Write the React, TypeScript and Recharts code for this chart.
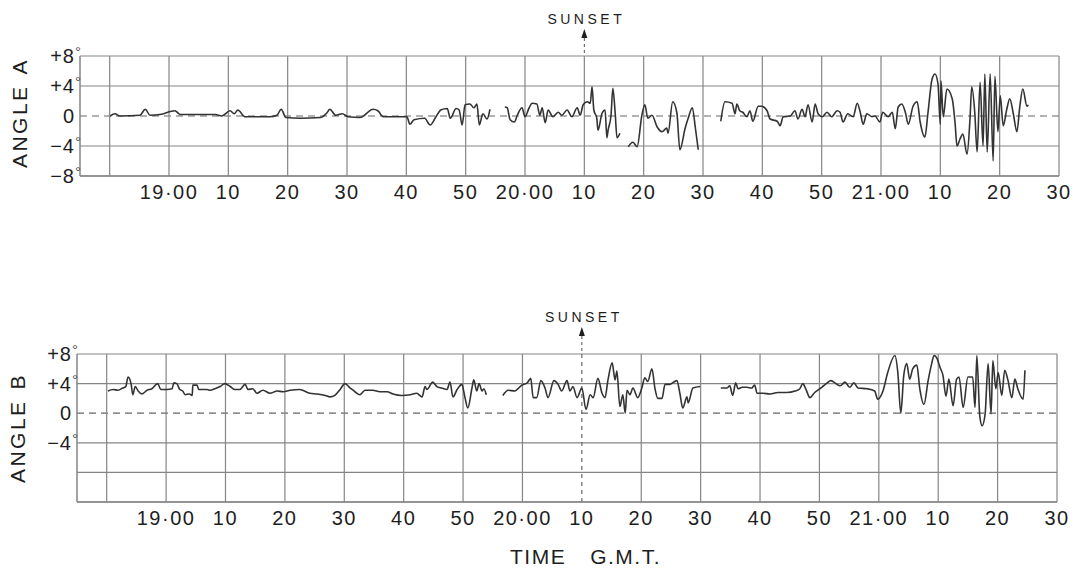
import { LineChart, Line, XAxis, YAxis, ReferenceLine } from 'recharts'

// time in minutes after 18:00, angle in degrees
const timeTicks = [50, 60, 70, 80, 90, 100, 110, 120, 130, 140, 150, 160, 170, 180, 190, 200, 210]
const timeLabels = ['', '19·00', '10', '20', '30', '40', '50', '20·00', '10', '20', '30', '40', '50', '21·00', '10', '20', '30']
const sunsetTime = 130

const angleATicks = [8, 4, 0, -4, -8]
const angleALabels = ['+8', '+4', '0', '−4', '−8']
const angleBTicks = [8, 4, 0, -4, -8, -12]
const angleBLabels = ['+8', '+4', '0', '−4', '', '']

const angleA1 = [[50.1,0],[50.9,0.3],[51.7,0],[55.1,0.1],[56.0,0.9],[56.8,0.1],[58.5,0.2],[61.0,0.7],[61.9,0.2],[67.8,0.2],[68.9,0],[70.3,0.7],[71.0,0.3],[71.6,0.8],[72.8,-0.1],[77.0,-0.1],[78.2,0.1],[78.9,0.9],[79.7,-0.2],[82.1,-0.3],[85.5,-0.2],[86.6,0.4],[87.1,0.9],[88.1,0.1],[89.2,0.3],[90.2,-0.1],[92.2,-0.2],[94.4,0.9],[95.2,0.7],[96.1,-0.1],[100.1,-0.1],[100.6,-1.1],[101.3,-0.5],[103.1,-0.3],[104.0,-1.2],[105.0,-0.1],[105.8,0.8],[106.9,1.0],[107.4,-0.3],[108.4,1.0],[108.9,0.8],[109.4,-1.2],[109.9,1.5],[110.7,1.6],[111.4,1.1],[111.9,1.6],[112.3,-1.2],[112.9,0.3],[113.6,-0.4],[114.1,0.9]]
const angleA2 = [[116.6,1.2],[117.0,1.1],[117.5,-0.5],[118.2,-0.8],[118.7,0.1],[119.5,1.1],[120.0,-0.1],[120.7,1.1],[121.2,1.7],[122.0,1.6],[122.5,0.1],[122.9,1.1],[123.4,-0.9],[123.9,0.8],[124.7,-0.1],[125.6,0.5],[126.2,0.1],[127.1,0.8],[127.9,-0.1],[128.8,1.1],[129.3,0.1],[129.8,1.5],[130.5,1.9],[131.0,1.7],[131.3,3.9],[131.6,0.8],[132.1,-0.3],[132.3,-1.9],[133.0,0.4],[133.5,0.8],[133.8,-2.9],[134.0,-1.9],[134.5,0.1],[134.8,3.7],[135.2,0.4],[135.5,-2.9],[136.0,-2.3]]
const angleA3 = [[137.4,-4.1],[138.2,-3.5],[138.9,-4.1],[139.7,0.1],[140.2,1.5],[140.7,-0.3],[141.4,0.1],[142.3,-1.5],[143.1,-2.1],[143.9,-1.6],[144.1,-2.3],[144.9,1.9],[145.6,0.4],[146.1,-4.5],[147.0,-1.6],[147.5,-0.3],[148.2,1.1],[148.7,-1.5],[149.2,-4.5]]
const angleA4 = [[153.0,-0.7],[153.7,1.9],[154.9,1.7],[155.4,0.3],[155.7,1.6],[156.2,0.7],[156.7,0.5],[157.4,-0.1],[157.9,0.7],[158.4,-0.7],[159.3,1.3],[159.9,1.3],[160.8,0.7],[161.3,-0.4],[162.5,-0.7],[163.0,-1.3],[163.5,-0.1],[164.7,0],[165.5,0.7],[166.0,-0.4],[166.7,0.9],[167.2,-0.1],[167.7,1.5],[168.4,-0.8],[168.9,1.6],[169.4,0.3],[170.1,-0.1],[170.9,0.5],[171.7,-0.1],[172.6,0.7],[173.1,0.5],[173.6,-0.8],[174.4,0.3],[175.3,-0.1],[176.0,1.7],[176.5,0.5],[177.0,-1.1],[177.6,0.3],[178.5,-0.1],[179.0,0],[179.8,-0.8],[180.3,0.5],[181.2,-0.1],[181.9,0.5],[182.4,-1.7],[182.9,1.2],[183.5,1.6],[184.1,0.5],[184.6,-1.1],[185.4,1.3],[186.1,1.9],[186.6,-0.8],[187.4,-2.8],[187.9,0.3],[188.6,4.9],[189.1,5.6],[189.6,4.3],[190.0,-1.1],[190.1,4.7],[190.5,-0.1],[191.1,3.6],[192.0,2.3],[192.5,-1.1],[192.8,-4.0],[193.3,-3.1],[193.8,-2.4],[194.5,-5.1],[195.0,-0.4],[195.3,3.9],[195.8,0.5],[196.2,-4.8],[196.7,4.5],[197.2,-4.0],[197.5,5.6],[197.9,-4.8],[198.4,5.6],[198.9,-6.0],[199.2,5.3],[199.7,-2.1],[200.1,2.7],[200.6,-1.3],[201.2,0.9],[201.7,2.3],[202.3,0.3],[202.9,-2.1],[203.4,1.3],[203.9,3.6],[204.6,1.3],[204.8,1.5]]

const angleB1 = [[50.2,3.0],[51.1,3.2],[51.9,3.1],[52.7,3.4],[53.2,3.6],[53.6,4.9],[54.1,4.0],[54.4,2.5],[54.8,3.6],[55.3,3.0],[55.9,2.6],[56.8,3.1],[57.6,3.3],[58.6,4.0],[59.1,3.2],[60.2,3.2],[61.0,3.3],[61.3,4.1],[61.8,4.0],[62.3,3.2],[62.8,3.0],[63.2,2.5],[63.9,2.6],[64.4,2.4],[64.5,3.8],[65.2,3.8],[65.5,3.2],[66.9,3.2],[67.4,3.1],[68.2,3.3],[69.1,3.6],[69.9,4.0],[70.8,3.6],[71.6,3.2],[72.4,3.2],[73.3,3.9],[73.8,3.2],[74.6,3.3],[75.3,2.7],[76.3,3.1],[77.5,2.7],[78.7,3.0],[79.7,2.9],[80.9,3.1],[82.5,3.2],[84.2,2.7],[85.4,2.6],[86.8,2.4],[87.6,2.2],[88.4,2.4],[89.3,3.2],[90.1,4.0],[91.0,3.4],[91.8,2.9],[92.6,2.5],[93.5,3.1],[94.8,3.1],[96.0,2.9],[97.2,2.9],[98.2,2.6],[99.7,2.4],[101.1,2.5],[102.2,2.7],[103.1,2.2],[103.6,3.6],[103.9,3.2],[104.9,4.2],[105.6,3.6],[106.4,3.4],[107.3,3.2],[107.8,4.2],[108.3,2.2],[109.0,3.2],[109.8,3.9],[110.3,2.2],[110.8,0.7],[111.5,3.4],[111.8,4.5],[112.3,3.0],[112.7,4.0],[113.2,3.0],[113.5,3.3],[113.9,2.5]]
const angleB2 = [[116.7,2.4],[117.6,3.1],[118.7,3.0],[119.9,3.8],[120.8,4.1],[121.4,4.7],[121.8,2.1],[122.4,2.1],[123.1,4.4],[123.8,3.4],[124.3,2.1],[125.3,4.4],[126.0,3.9],[126.6,3.0],[127.5,4.4],[128.0,3.0],[128.5,3.6],[129.2,2.1],[130.0,3.4],[130.7,0.5],[131.4,2.5],[131.9,2.1],[132.7,4.7],[133.4,2.7],[133.9,2.1],[134.4,4.5],[135.1,6.8],[135.6,4.5],[135.9,5.7],[136.4,0.9],[136.9,2.5],[137.3,0.0],[137.6,3.1],[138.1,2.5],[138.6,3.4],[139.4,2.1],[140.1,3.4],[140.6,4.8],[141.1,4.3],[141.8,6.0],[142.3,3.4],[142.8,2.0],[143.5,2.0],[144.0,3.9],[144.8,3.9],[146.0,4.4],[146.5,2.7],[147.0,0.7],[147.7,2.2],[147.9,1.4],[148.7,3.4],[149.9,3.6]]
const angleB3 = [[153.4,3.4],[154.4,3.4],[154.9,3.7],[155.4,2.4],[155.9,4.1],[156.3,3.3],[157.0,3.5],[157.8,3.5],[158.6,3.4],[159.1,3.8],[159.5,2.7],[160.5,2.7],[161.7,2.6],[163.0,2.8],[164.5,2.8],[165.9,3.0],[166.7,3.3],[167.2,4.0],[167.7,3.3],[168.4,2.1],[169.2,2.8],[170.4,3.5],[171.3,4.1],[171.9,4.4],[172.6,4.1],[173.5,3.7],[174.3,4.2],[175.1,3.5],[175.8,4.1],[176.5,3.4],[178.0,3.3],[179.3,3.0],[179.8,1.9],[180.7,3.0],[181.5,5.5],[182.7,7.8],[183.2,5.5],[183.7,0],[184.2,5.1],[184.7,6.7],[185.2,4.6],[185.7,6.0],[186.4,6.5],[186.9,3.3],[187.6,1.2],[188.3,4.4],[188.9,6.7],[189.3,7.8],[189.8,7.4],[190.3,6.2],[190.8,5.1],[191.3,2.3],[191.8,4.6],[192.5,1.0],[193.1,4.6],[193.5,4.9],[194.2,0.8],[195.0,4.9],[195.8,4.9],[196.2,0.8],[196.5,7.8],[197.0,-0.4],[197.4,-1.7],[197.9,-0.1],[198.4,6.7],[198.9,-0.1],[199.2,7.1],[199.7,3.3],[200.1,5.5],[200.7,2.4],[201.2,5.8],[201.7,4.6],[202.4,2.1],[202.9,4.6],[203.4,3.3],[204.3,1.9],[204.6,5.8]]

type Row = { t: number; v: number | null }

// join pen segments, leaving a null row between them so the trace breaks
function joinSegments(segs: number[][][]): Row[] {
  const rows: Row[] = []
  segs.forEach((seg, i) => {
    if (i > 0) {
      const prev = segs[i - 1]
      rows.push({ t: (prev[prev.length - 1][0] + seg[0][0]) / 2, v: null })
    }
    seg.forEach(([t, v]) => rows.push({ t, v }))
  })
  return rows
}

const dataA = joinSegments([angleA1, angleA2, angleA3, angleA4])
const dataB = joinSegments([angleB1, angleB2, angleB3])

const ink = '#1e1e1e'
const gridColor = '#858585'
const traceColor = '#333'
const font = '"Liberation Sans", Arial, Helvetica, sans-serif'

const TimeTick = (props: any) => {
  const { x, y, payload } = props
  const label = timeLabels[timeTicks.indexOf(payload.value)]
  return (
    <text x={x} y={y + 23} textAnchor="middle" fontSize={20} letterSpacing={1.5} fill={ink} fontFamily={font}>
      {label}
    </text>
  )
}

const makeAngleTick = (ticks: number[], labels: string[]) => (props: any) => {
  const { x, y, payload } = props
  const label = labels[ticks.indexOf(payload.value)]
  if (!label) return <g />
  return (
    <g>
      <text x={x} y={y + 7} textAnchor="end" fontSize={20} letterSpacing={1} fill={ink} fontFamily={font}>{label}</text>
      {label !== '0' && (
        <text x={x} y={y + 1} fontSize={15} fill="#555" fontFamily={font}>°</text>
      )}
    </g>
  )
}

const SunsetLabel = (props: any) => {
  const { viewBox } = props
  const x = viewBox.x
  const top = viewBox.y
  return (
    <g>
      <text x={x + 2} y={top - 32} textAnchor="middle" fontSize={14} letterSpacing={3.5} fill={ink} fontFamily={font}>SUNSET</text>
      <polygon points={`${x},${top - 27} ${x - 3},${top - 18} ${x + 3},${top - 18}`} fill={ink} />
      <line x1={x} x2={x} y1={top - 18} y2={top} stroke="#555" strokeDasharray="3 3" />
    </g>
  )
}

function Panel({ data, yTicks, yLabels, domain, height, margin, yWidth, dashedSunset }: any) {
  const AngleTick = makeAngleTick(yTicks, yLabels)
  return (
    <LineChart width={1080} height={height} data={data} margin={margin}>
      <XAxis
        dataKey="t"
        type="number"
        domain={[45, 210]}
        ticks={timeTicks}
        tick={<TimeTick />}
        tickLine={false}
        tickSize={0}
        tickMargin={0}
        height={30}
        axisLine={{ stroke: gridColor, strokeWidth: 1.5 }}
        allowDataOverflow
      />
      <YAxis
        type="number"
        domain={domain}
        ticks={yTicks}
        tick={<AngleTick />}
        tickLine={false}
        tickSize={0}
        tickMargin={5}
        width={yWidth}
        axisLine={{ stroke: gridColor, strokeWidth: 1.5 }}
        allowDataOverflow
      />
      {yTicks.filter((v: number) => v !== 0).map((v: number) => (
        <ReferenceLine key={'h' + v} y={v} stroke={gridColor} strokeWidth={1.2} />
      ))}
      <ReferenceLine y={0} stroke="#666" strokeWidth={1.2} strokeDasharray="7 5" />
      {timeTicks.map((t) => (
        <ReferenceLine
          key={'v' + t}
          x={t}
          stroke={t === sunsetTime && dashedSunset ? '#666' : gridColor}
          strokeWidth={1.2}
          strokeDasharray={t === sunsetTime && dashedSunset ? '4 4' : undefined}
          label={t === sunsetTime ? <SunsetLabel /> : undefined}
        />
      ))}
      <Line
        type="monotoneX"
        dataKey="v"
        stroke={traceColor}
        strokeWidth={1.6}
        dot={false}
        connectNulls={false}
        isAnimationActive={false}
      />
    </LineChart>
  )
}

export default function App() {
  return (
    <div style={{ position: 'absolute', left: 0, top: 0, width: 1080, height: 570, background: '#fff', fontFamily: font }}>
      <div style={{ position: 'absolute', left: 0, top: 0 }}>
        <Panel
          data={dataA}
          yTicks={angleATicks}
          yLabels={angleALabels}
          domain={[-8, 8]}
          height={280}
          margin={{ top: 56, right: 21, bottom: 74, left: 0 }}
          yWidth={80}
          dashedSunset={false}
        />
      </div>
      <div style={{ position: 'absolute', left: 0, top: 280 }}>
        <Panel
          data={dataB}
          yTicks={angleBTicks}
          yLabels={angleBLabels}
          domain={[-12, 8]}
          height={290}
          margin={{ top: 74, right: 23, bottom: 38, left: 0 }}
          yWidth={77}
          dashedSunset={true}
        />
      </div>
      <svg width={1080} height={570} style={{ position: 'absolute', left: 0, top: 0, pointerEvents: 'none' }}>
        <text transform="translate(27,113) rotate(-90)" textAnchor="middle" fontSize={21} letterSpacing={2.5} fill={ink} fontFamily={font}>
          <tspan>ANGLE</tspan><tspan dx={10}>A</tspan>
        </text>
        <text transform="translate(25,428) rotate(-90)" textAnchor="middle" fontSize={21} letterSpacing={2.5} fill={ink} fontFamily={font}>
          <tspan>ANGLE</tspan><tspan dx={10}>B</tspan>
        </text>
        <text x={510} y={564} fontSize={21} letterSpacing={1.5} fill={ink} fontFamily={font}>
          <tspan>TIME</tspan><tspan dx={24}>G.M.T.</tspan>
        </text>
      </svg>
    </div>
  )
}
